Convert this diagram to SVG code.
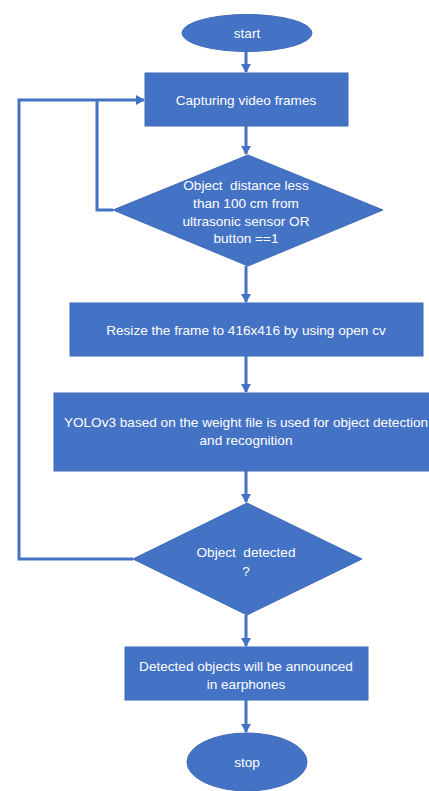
<svg xmlns="http://www.w3.org/2000/svg" width="429" height="791" viewBox="0 0 429 791">
<defs>
<style>
.shape{fill:#4472C4;stroke:#3F6BB8;stroke-width:1}
.t{fill:#FFFFFF;font-family:"Liberation Sans",Arial,sans-serif;font-size:13.6px;text-anchor:middle}
.c{fill:none;stroke:#4472C4;stroke-width:3}
</style>
<marker id="ah" markerWidth="10" markerHeight="10" refX="8" refY="5" orient="auto" markerUnits="userSpaceOnUse">
<path d="M0,0 L9,5 L0,10 Z" fill="#4472C4"/>
</marker>
</defs>
<rect width="429" height="791" fill="#FFFFFF"/>
<g id="connectors">
<line class="c" x1="246" y1="52" x2="246" y2="72" marker-end="url(#ah)"/>
<line class="c" x1="246" y1="126" x2="246" y2="154" marker-end="url(#ah)"/>
<line class="c" x1="246" y1="266" x2="246" y2="302" marker-end="url(#ah)"/>
<line class="c" x1="246" y1="356" x2="246" y2="392" marker-end="url(#ah)"/>
<line class="c" x1="246" y1="471" x2="246" y2="502" marker-end="url(#ah)"/>
<line class="c" x1="246" y1="615" x2="246" y2="646" marker-end="url(#ah)"/>
<line class="c" x1="246" y1="700" x2="246" y2="732" marker-end="url(#ah)"/>
<polyline class="c" points="113,210 97,210 97,100"/>
<polyline class="c" points="133,559 19,559 19,100 144,100" marker-end="url(#ah)"/>
</g>
<g id="start">
<ellipse class="shape" cx="247" cy="33" rx="65" ry="18.5"/>
<text class="t" x="247" y="38">start</text>
</g>
<g id="capture">
<rect class="shape" x="145" y="73" width="203" height="53"/>
<text class="t" x="246" y="105">Capturing video frames</text>
</g>
<g id="decision1">
<polygon class="shape" points="248,155 383,210 248,266 113,210"/>
<text class="t" x="246" y="190" xml:space="preserve">Object  distance less</text>
<text class="t" x="246" y="208">than 100 cm from</text>
<text class="t" x="246" y="226">ultrasonic sensor OR</text>
<text class="t" x="246" y="243">button ==1</text>
</g>
<g id="resize">
<rect class="shape" x="70" y="303" width="353" height="53"/>
<text class="t" x="246" y="335">Resize the frame to 416x416 by using open cv</text>
</g>
<g id="yolo">
<rect class="shape" x="54" y="393" width="384" height="78"/>
<text class="t" x="246" y="427">YOLOv3 based on the weight file is used for object detection</text>
<text class="t" x="246" y="445">and recognition</text>
</g>
<g id="decision2">
<polygon class="shape" points="247,503 362,559 247,615 133,559"/>
<text class="t" x="246" y="557" xml:space="preserve">Object  detected</text>
<text class="t" x="246" y="576">?</text>
</g>
<g id="announce">
<rect class="shape" x="125" y="647" width="243" height="53"/>
<text class="t" x="246" y="671">Detected objects will be announced</text>
<text class="t" x="246" y="689">in earphones</text>
</g>
<g id="stop">
<ellipse class="shape" cx="247" cy="762" rx="60" ry="29"/>
<text class="t" x="247" y="767">stop</text>
</g>
</svg>
